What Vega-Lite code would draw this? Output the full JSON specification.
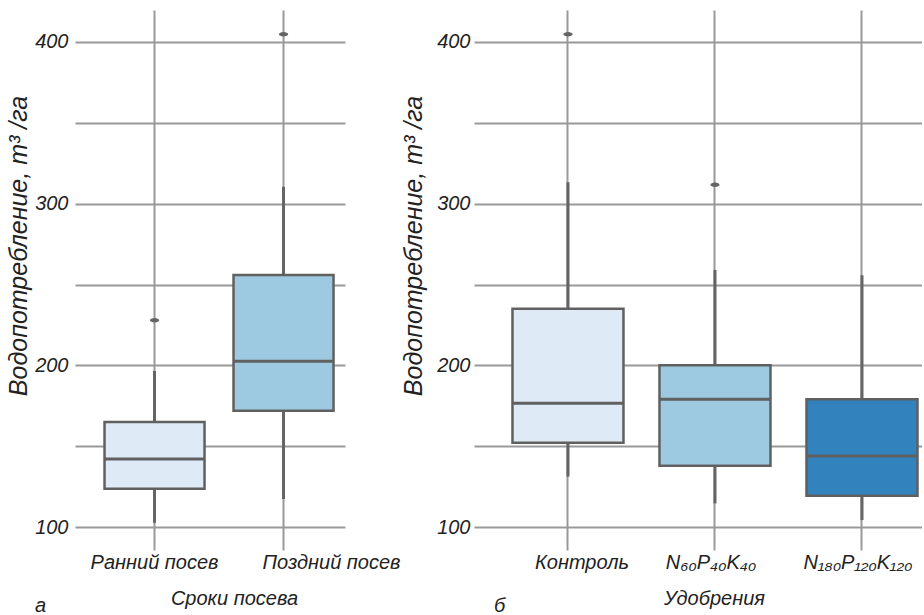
{
  "$schema": "https://vega.github.io/schema/vega-lite/v6.json",
  "padding": {"left": 6, "top": 10, "right": 0, "bottom": 0},
  "spacing": 0,
  "background": "white",
  "resolve": {"scale": {"color": "independent"}},
  "config": {
    "view": {"stroke": null},
    "concat": {"spacing": 0},
    "axis": {
      "grid": true, "gridColor": "#999999", "gridWidth": 2,
      "ticks": false, "domain": false,
      "labelFont": "Liberation Sans", "labelFontStyle": "italic", "labelFontSize": 20, "labelColor": "#222",
      "titleFont": "Liberation Sans", "titleFontSize": 20, "titleFontStyle": "italic", "titleFontWeight": "normal", "titleColor": "#222"
    },
    "title": {"fontStyle": "italic", "fontWeight": "normal", "color": "#222"}
  },
  "datasets": {
    "sow": [
      {"group": "Ранний посев", "lo": 102.8, "q1": 123.9, "med": 142.2, "q3": 165.1, "hi": 196.6},
      {"group": "Поздний посев", "lo": 117.5, "q1": 172.0, "med": 202.6, "q3": 255.9, "hi": 310.4}
    ],
    "sowOut": [
      {"group": "Ранний посев", "value": 227.9},
      {"group": "Поздний посев", "value": 404.6}
    ],
    "fert": [
      {"group": "Контроль", "lo": 131.3, "q1": 152.3, "med": 176.6, "q3": 235.1, "hi": 313.2},
      {"group": "N₆₀P₄₀K₄₀", "lo": 114.8, "q1": 138.1, "med": 179.1, "q3": 200.1, "hi": 259.0},
      {"group": "N₁₈₀P₁₂₀K₁₂₀", "lo": 104.5, "q1": 119.5, "med": 144.1, "q3": 179.1, "hi": 255.7}
    ],
    "fertOut": [
      {"group": "Контроль", "value": 404.6},
      {"group": "N₆₀P₄₀K₄₀", "value": 311.7}
    ]
  },
  "hconcat": [
    {
      "title": {"text": "а", "orient": "bottom", "anchor": "start", "frame": "group", "offset": 0, "dx": -40, "dy": -12, "font": "Liberation Sans", "fontSize": 20},
      "vconcat": [
        {
          "width": 270,
          "height": 540,
          "title": {"text": "Водопотребление,  m³ /га", "orient": "left", "anchor": "middle", "frame": "group", "font": "Liberation Sans", "fontSize": 25, "offset": 3, "dx": 34},
          "encoding": {
            "x": {"field": "group", "type": "nominal",
              "scale": {"type": "band", "domain": ["Ранний посев", "Поздний посев"], "paddingInner": 0.5, "paddingOuter": 0.2965, "align": 0.618},
              "axis": {"title": "Сроки посева", "labelAngle": 0, "labelPadding": 2, "titlePadding": 16, "titleX": 159, "titleAlign": "center", "labelOverlap": false,
                "labelOffset": {"condition": {"test": "datum.value === 'Поздний посев'", "value": 48}, "value": 0}}}
          },
          "layer": [
            {"data": {"name": "sow"}, "mark": {"type": "rule", "color": "#646464", "strokeWidth": 3},
              "encoding": {
                "y": {"field": "lo", "type": "quantitative", "scale": {"domain": [86, 419.6], "nice": false, "zero": false},
                  "axis": {"values": [100, 150, 200, 250, 300, 350, 400], "labelExpr": "datum.value % 100 === 0 ? datum.label : ''", "title": null, "labelPadding": 7}},
                "y2": {"field": "q1"}}},
            {"data": {"name": "sow"}, "mark": {"type": "rule", "color": "#646464", "strokeWidth": 3},
              "encoding": {
                "y": {"field": "q3", "type": "quantitative", "axis": {"values": [100, 150, 200, 250, 300, 350, 400], "labelExpr": "datum.value % 100 === 0 ? datum.label : ''", "title": null, "labelPadding": 7}},
                "y2": {"field": "hi"}}},
            {"data": {"name": "sow"}, "mark": {"type": "bar", "width": 100, "stroke": "#606060", "strokeWidth": 2.5},
              "encoding": {
                "y": {"field": "q1", "type": "quantitative", "axis": {"values": [100, 150, 200, 250, 300, 350, 400], "labelExpr": "datum.value % 100 === 0 ? datum.label : ''", "title": null, "labelPadding": 7}},
                "y2": {"field": "q3"},
                "color": {"field": "group", "type": "nominal", "scale": {"domain": ["Ранний посев", "Поздний посев"], "range": ["#deebf7", "#9ecae1"]}, "legend": null}}},
            {"data": {"name": "sow"}, "mark": {"type": "tick", "color": "#606060", "thickness": 3, "size": 100, "opacity": 1},
              "encoding": {"y": {"field": "med", "type": "quantitative", "axis": {"values": [100, 150, 200, 250, 300, 350, 400], "labelExpr": "datum.value % 100 === 0 ? datum.label : ''", "title": null, "labelPadding": 7}}}},
            {"data": {"name": "sowOut"}, "mark": {"type": "point", "shape": "M-1,0A1,0.5,0,1,1,1,0A1,0.5,0,1,1,-1,0Z", "filled": true, "color": "#646464", "size": 81, "opacity": 1},
              "encoding": {"y": {"field": "value", "type": "quantitative", "axis": {"values": [100, 150, 200, 250, 300, 350, 400], "labelExpr": "datum.value % 100 === 0 ? datum.label : ''", "title": null, "labelPadding": 7}}}}
          ]
        }
      ]
    },
    {
      "title": {"text": "б", "orient": "bottom", "anchor": "start", "frame": "group", "offset": 0, "dx": 20, "dy": -12, "font": "Liberation Sans", "fontSize": 20},
      "vconcat": [
        {
          "width": 448,
          "height": 540,
          "title": {"text": "Водопотребление,  m³ /га", "orient": "left", "anchor": "middle", "frame": "group", "font": "Liberation Sans", "fontSize": 25, "offset": 10, "dx": 34},
          "encoding": {
            "x": {"field": "group", "type": "nominal",
              "scale": {"type": "band", "domain": ["Контроль", "N₆₀P₄₀K₄₀", "N₁₈₀P₁₂₀K₁₂₀"], "paddingInner": 0.5, "paddingOuter": 0.2738, "align": 0.711},
              "axis": {"title": "Удобрения", "labelAngle": 0, "labelPadding": 2, "titlePadding": 16, "titleX": 240, "titleAlign": "center", "labelOverlap": false,
                "labelOffset": {"condition": {"test": "datum.value === 'Контроль'", "value": 14}, "value": -4}}}
          },
          "layer": [
            {"data": {"name": "fert"}, "mark": {"type": "rule", "color": "#646464", "strokeWidth": 3},
              "encoding": {
                "y": {"field": "lo", "type": "quantitative", "scale": {"domain": [86, 419.6], "nice": false, "zero": false},
                  "axis": {"values": [100, 150, 200, 250, 300, 350, 400], "labelExpr": "datum.value % 100 === 0 ? datum.label : ''", "title": null, "labelPadding": 4}},
                "y2": {"field": "q1"}}},
            {"data": {"name": "fert"}, "mark": {"type": "rule", "color": "#646464", "strokeWidth": 3},
              "encoding": {
                "y": {"field": "q3", "type": "quantitative", "axis": {"values": [100, 150, 200, 250, 300, 350, 400], "labelExpr": "datum.value % 100 === 0 ? datum.label : ''", "title": null, "labelPadding": 4}},
                "y2": {"field": "hi"}}},
            {"data": {"name": "fert"}, "mark": {"type": "bar", "width": 111, "stroke": "#606060", "strokeWidth": 2.5},
              "encoding": {
                "y": {"field": "q1", "type": "quantitative", "axis": {"values": [100, 150, 200, 250, 300, 350, 400], "labelExpr": "datum.value % 100 === 0 ? datum.label : ''", "title": null, "labelPadding": 4}},
                "y2": {"field": "q3"},
                "color": {"field": "group", "type": "nominal", "scale": {"domain": ["Контроль", "N₆₀P₄₀K₄₀", "N₁₈₀P₁₂₀K₁₂₀"], "range": ["#deebf7", "#9ecae1", "#3182bd"]}, "legend": null}}},
            {"data": {"name": "fert"}, "mark": {"type": "tick", "color": "#606060", "thickness": 3, "size": 111, "opacity": 1},
              "encoding": {"y": {"field": "med", "type": "quantitative", "axis": {"values": [100, 150, 200, 250, 300, 350, 400], "labelExpr": "datum.value % 100 === 0 ? datum.label : ''", "title": null, "labelPadding": 4}}}},
            {"data": {"name": "fertOut"}, "mark": {"type": "point", "shape": "M-1,0A1,0.5,0,1,1,1,0A1,0.5,0,1,1,-1,0Z", "filled": true, "color": "#646464", "size": 81, "opacity": 1},
              "encoding": {"y": {"field": "value", "type": "quantitative", "axis": {"values": [100, 150, 200, 250, 300, 350, 400], "labelExpr": "datum.value % 100 === 0 ? datum.label : ''", "title": null, "labelPadding": 4}}}}
          ]
        }
      ]
    }
  ]
}
